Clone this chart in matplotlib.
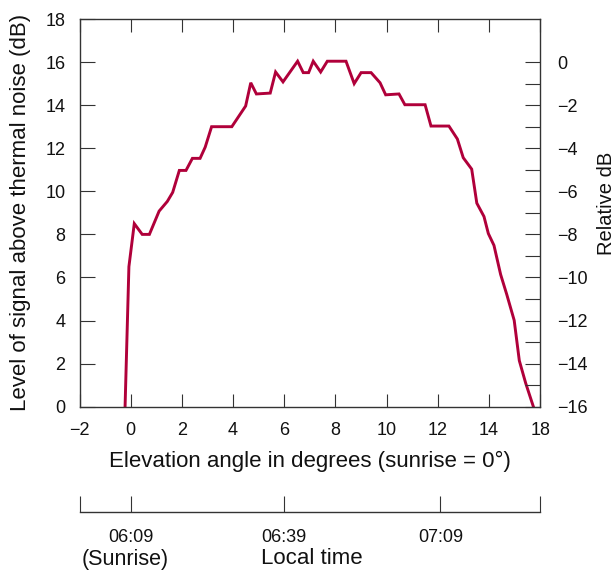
import matplotlib
matplotlib.use("Agg")
import matplotlib.pyplot as plt
from matplotlib.ticker import FixedLocator, FixedFormatter

plt.rcParams['font.family'] = ['Liberation Sans', 'DejaVu Sans']

# ---- data (x in tick-position units: ticks -2..16 are labelled -2..14, 18) ----
elev_pos = [-0.22, -0.07, 0.14, 0.45, 0.73, 1.11, 1.43, 1.64, 1.90, 2.16, 2.41, 2.71,
            2.91, 3.16, 3.95, 4.49, 4.69, 4.91, 5.45, 5.66, 5.95, 6.52, 6.74, 6.95,
            7.13, 7.42, 7.68, 8.41, 8.73, 9.00, 9.39, 9.74, 9.96, 10.48, 10.71, 11.50,
            11.73, 12.43, 12.76, 12.99, 13.32, 13.52, 13.80, 13.97, 14.19, 14.45,
            14.69, 14.98, 15.18, 15.43, 15.73]
signal_db = [0.0, 6.5, 8.5, 8.0, 8.0, 9.08, 9.53, 9.95, 10.97, 10.97, 11.53, 11.53,
             12.05, 13.0, 13.0, 13.96, 15.04, 14.52, 14.56, 15.54, 15.08, 16.04, 15.51,
             15.51, 16.04, 15.54, 16.04, 16.04, 15.0, 15.51, 15.51, 15.04, 14.48, 14.52,
             14.02, 14.02, 13.03, 13.03, 12.43, 11.56, 11.03, 9.45, 8.83, 8.04, 7.49,
             6.14, 5.21, 4.01, 2.14, 1.09, 0.0]

x_tick_pos = [-2, 0, 2, 4, 6, 8, 10, 12, 14, 16]
x_tick_labels = ['\u22122', '0', '2', '4', '6', '8', '10', '12', '14', '18']
y_ticks = [0, 2, 4, 6, 8, 10, 12, 14, 16, 18]
rel_ticks = [-16, -14, -12, -10, -8, -6, -4, -2, 0]
rel_minor = [-15, -13, -11, -9, -7, -5, -3, -1]
time_pos = [0, 6, 12.1]
time_labels = ['06:09', '06:39', '07:09']

line_color = '#B0003A'
txt = '#111111'
fs = 13      # tick labels
lfs = 16     # axis labels

fig = plt.figure(figsize=(6.16, 5.73), dpi=100)
L, R = 79.5 / 616, 540.3 / 616
B, T = 1 - 406.7 / 573, 1 - 19 / 573
ax = fig.add_axes([L, B, R - L, T - B])
ax.plot(elev_pos, signal_db, color=line_color, lw=2.1, solid_joinstyle='miter', clip_on=True)
ax.set_xlim(-2, 16)
ax.set_ylim(0, 18)
for s in ax.spines.values():
    s.set_color('#333333')
    s.set_linewidth(1.0)

ax.xaxis.set_major_locator(FixedLocator(x_tick_pos))
ax.xaxis.set_major_formatter(FixedFormatter(x_tick_labels))
ax.set_yticks(y_ticks)
ax.tick_params(axis='x', direction='in', length=9.5, width=0.8, color='#333333',
               top=True, bottom=True, labelsize=fs, pad=11, labelcolor=txt)
ax.tick_params(axis='y', direction='in', length=11, width=0.8, color='#333333',
               left=True, right=False, labelsize=fs, pad=10, labelcolor=txt)
ax.set_xlabel('Elevation angle in degrees (sunrise = 0\u00b0)', fontsize=lfs, color=txt)
ax.xaxis.set_label_coords(0.5, -0.140)
ax.xaxis.label.set_va('center')
ax.set_ylabel('Level of signal above thermal noise (dB)', fontsize=lfs, color=txt)
ax.yaxis.set_label_coords(-0.127, 0.5)
ax.yaxis.label.set_va('center')

ax2 = ax.twinx()
ax2.set_ylim(-16, 2)
ax2.set_yticks(rel_ticks)
ax2.set_yticks(rel_minor, minor=True)
ax2.tick_params(axis='y', which='both', direction='in', length=11, width=0.8,
                color='#333333', labelsize=fs, pad=12, labelcolor=txt)
for s in ax2.spines.values():
    s.set_visible(False)
ax2.set_ylabel('Relative dB', fontsize=14.5, color=txt, rotation=90)
ax2.yaxis.set_label_coords(1.143, 0.525)
ax2.yaxis.label.set_va('center')

# ---- local time axis ----
ty = 1 - 512 / 573
ax3 = fig.add_axes([L, ty, R - L, 0.02])
ax3.set_xlim(-2, 16)
ax3.patch.set_visible(False)
for k in ('top', 'left', 'right'):
    ax3.spines[k].set_visible(False)
ax3.spines['bottom'].set_color('#333333')
ax3.spines['bottom'].set_linewidth(1.0)
ax3.set_yticks([])
ax3.set_xticks([-2] + time_pos + [16])
ax3.set_xticklabels([''] + time_labels + [''])
ax3.tick_params(axis='x', direction='in', length=11.5, width=0.8, color='#333333',
                labelsize=fs, pad=12, labelcolor=txt)
fig.text(125 / 616, 1 - 559 / 573, '(Sunrise)', ha='center', va='center', fontsize=15.5, color=txt)
fig.text(312 / 616, 1 - 559 / 573, 'Local time', ha='center', va='center', fontsize=lfs, color=txt)

fig.savefig('out.png', dpi=100)
